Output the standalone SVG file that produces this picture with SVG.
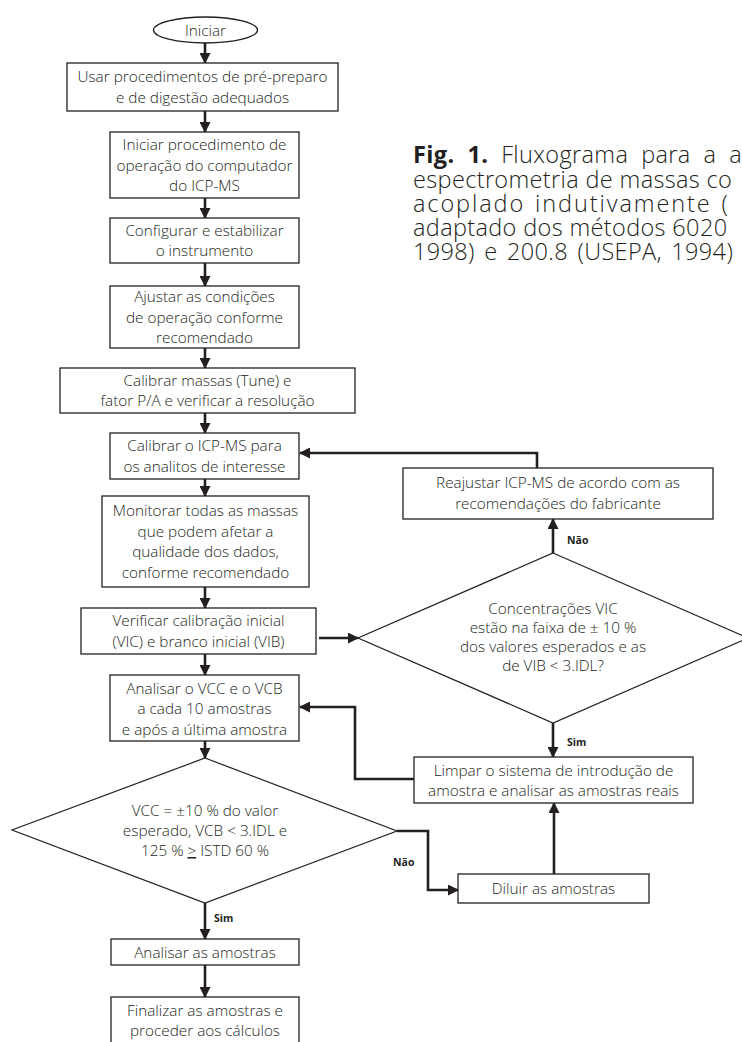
<svg xmlns="http://www.w3.org/2000/svg" width="742" height="1042" viewBox="0 0 742 1042">
  <style>
    .box { fill: #ffffff; stroke: #231f20; stroke-width: 1.3; }
    .dia { fill: #ffffff; stroke: #231f20; stroke-width: 1.2; }
    .t { font-family: "Open Sans", "Noto Sans", sans-serif; font-size: 15.3px; font-weight: 300; fill: #231f20; text-anchor: middle; }
    .lbl { font-family: "Open Sans", "Noto Sans", sans-serif; font-size: 10.5px; font-weight: bold; fill: #231f20; }
    .cap { font-family: "Open Sans", "Noto Sans", sans-serif; font-size: 23.5px; font-weight: 300; fill: #231f20; letter-spacing: 0.35px; }
    .edge { fill: none; stroke: #231f20; stroke-width: 2.6; }
  </style>
  <defs>
    <marker id="arrow" markerUnits="userSpaceOnUse" markerWidth="11" markerHeight="11" refX="10" refY="5.5" orient="auto">
      <path d="M0,0 L11,5.5 L0,11 z" fill="#231f20"/>
    </marker>
  </defs>
  <rect width="742" height="1042" fill="#ffffff"/>

  <!-- connectors -->
  <g id="connectors">
    <path class="edge" d="M205,43 V63" marker-end="url(#arrow)"/>
    <path class="edge" d="M205,111 V132" marker-end="url(#arrow)"/>
    <path class="edge" d="M205,198 V218" marker-end="url(#arrow)"/>
    <path class="edge" d="M205,263 V286" marker-end="url(#arrow)"/>
    <path class="edge" d="M205,348 V368" marker-end="url(#arrow)"/>
    <path class="edge" d="M205,413 V433" marker-end="url(#arrow)"/>
    <path class="edge" d="M205,479 V496" marker-end="url(#arrow)"/>
    <path class="edge" d="M205,587 V608" marker-end="url(#arrow)"/>
    <path class="edge" d="M205,654 V675" marker-end="url(#arrow)"/>
    <path class="edge" d="M205,741 V758" marker-end="url(#arrow)"/>
    <path class="edge" d="M205,903 V939" marker-end="url(#arrow)"/>
    <path class="edge" d="M205,965 V997" marker-end="url(#arrow)"/>
    <path class="edge" d="M319,638 H358" marker-end="url(#arrow)"/>
    <path class="edge" d="M553,553 V519" marker-end="url(#arrow)"/>
    <path class="edge" d="M537,468 V453 H300" marker-end="url(#arrow)"/>
    <path class="edge" d="M553,723 V757" marker-end="url(#arrow)"/>
    <path class="edge" d="M414,779 H355 V707 H300" marker-end="url(#arrow)"/>
    <path class="edge" d="M397,831 H428 V890 H458" marker-end="url(#arrow)"/>
    <path class="edge" d="M554,874 V803" marker-end="url(#arrow)"/>
    <text class="lbl" x="567" y="544">Não</text>
    <text class="lbl" x="567" y="746">Sim</text>
    <text class="lbl" x="393" y="866">Não</text>
    <text class="lbl" x="214" y="922">Sim</text>
  </g>

  <!-- caption -->
  <g id="caption">
    <text class="cap" x="413" y="163" style="word-spacing:6.5px"><tspan font-weight="bold">Fig. 1.</tspan> Fluxograma para a a</text>
    <text class="cap" x="413" y="188">espectrometria de massas co</text>
    <text class="cap" x="413" y="212" style="letter-spacing:1.9px; word-spacing:2px">acoplado indutivamente (</text>
    <text class="cap" x="413" y="236">adaptado dos métodos 6020</text>
    <text class="cap" x="413" y="260" style="word-spacing:3px">1998) e 200.8 (USEPA, 1994)</text>
  </g>

  <g id="n-iniciar">
    <ellipse class="box" cx="205.5" cy="30" rx="52" ry="13"/>
    <text class="t" x="205.5" y="35.5">Iniciar</text>
  </g>
  <g id="n-preparo">
    <rect class="box" x="67" y="63" width="271" height="48"/>
    <text class="t" x="202.5" y="82">Usar procedimentos de pré-preparo</text>
    <text class="t" x="202.5" y="103">e de digestão adequados</text>
  </g>
  <g id="n-computador">
    <rect class="box" x="110" y="132" width="189" height="66"/>
    <text class="t" x="204.5" y="150">Iniciar procedimento de</text>
    <text class="t" x="204.5" y="171">operação do computador</text>
    <text class="t" x="204.5" y="191">do ICP-MS</text>
  </g>
  <g id="n-configurar">
    <rect class="box" x="110" y="218" width="189" height="45"/>
    <text class="t" x="204.5" y="236">Configurar e estabilizar</text>
    <text class="t" x="204.5" y="256">o instrumento</text>
  </g>
  <g id="n-ajustar">
    <rect class="box" x="110" y="286" width="189" height="62"/>
    <text class="t" x="204.5" y="302">Ajustar as condições</text>
    <text class="t" x="204.5" y="323">de  operação conforme</text>
    <text class="t" x="204.5" y="343">recomendado</text>
  </g>
  <g id="n-tune">
    <rect class="box" x="60" y="368" width="295" height="45"/>
    <text class="t" x="207.5" y="386">Calibrar massas (Tune) e</text>
    <text class="t" x="207.5" y="406">fator P/A e verificar a resolução</text>
  </g>
  <g id="n-calibrar">
    <rect class="box" x="110" y="433" width="189" height="46"/>
    <text class="t" x="204.5" y="451">Calibrar o ICP-MS para</text>
    <text class="t" x="204.5" y="472">os analitos de interesse</text>
  </g>
  <g id="n-monitorar">
    <rect class="box" x="102" y="496" width="207" height="91"/>
    <text class="t" x="205.5" y="516">Monitorar todas as massas</text>
    <text class="t" x="205.5" y="537">que podem afetar a</text>
    <text class="t" x="205.5" y="557">qualidade dos dados,</text>
    <text class="t" x="205.5" y="578">conforme recomendado</text>
  </g>
  <g id="n-verificar">
    <rect class="box" x="81" y="608" width="235" height="46"/>
    <text class="t" x="198.5" y="626">Verificar calibração inicial</text>
    <text class="t" x="198.5" y="647">(VIC) e branco inicial (VIB)</text>
  </g>
  <g id="n-vcc">
    <rect class="box" x="110" y="675" width="189" height="66"/>
    <text class="t" x="204.5" y="693.5">Analisar o VCC e o VCB</text>
    <text class="t" x="204.5" y="714">a cada 10 amostras</text>
    <text class="t" x="204.5" y="734.5">e após a última amostra</text>
  </g>
  <g id="n-decisao-vcc">
    <polygon class="dia" points="205,758 397,831 205,903 12,830"/>
    <text class="t" x="205" y="816">VCC = ±10 % do valor</text>
    <text class="t" x="205" y="836">esperado, VCB &lt; 3.IDL e</text>
    <text class="t" x="205" y="856">125 % <tspan text-decoration="underline">&gt;</tspan> ISTD 60 %</text>
  </g>
  <g id="n-analisar">
    <rect class="box" x="111" y="939" width="188" height="26"/>
    <text class="t" x="205" y="957.5">Analisar as amostras</text>
  </g>
  <g id="n-finalizar">
    <rect class="box" x="111" y="997" width="188" height="55"/>
    <text class="t" x="205" y="1016">Finalizar as amostras e</text>
    <text class="t" x="205" y="1036">proceder aos cálculos</text>
  </g>
  <g id="n-reajustar">
    <rect class="box" x="403" y="468" width="310" height="51"/>
    <text class="t" x="558" y="488">Reajustar ICP-MS de acordo com as</text>
    <text class="t" x="558" y="509">recomendações do fabricante</text>
  </g>
  <g id="n-decisao-vic">
    <polygon class="dia" points="553,553 748,638 553,723 358,638"/>
    <text class="t" x="553" y="614">Concentrações VIC</text>
    <text class="t" x="553" y="633">estão na faixa de ± 10 %</text>
    <text class="t" x="553" y="652">dos valores esperados e as</text>
    <text class="t" x="553" y="671">de VIB &lt; 3.IDL?</text>
  </g>
  <g id="n-limpar">
    <rect class="box" x="414" y="757" width="279" height="46"/>
    <text class="t" x="553.5" y="775.5">Limpar o sistema de introdução de</text>
    <text class="t" x="553.5" y="796">amostra e analisar as amostras reais</text>
  </g>
  <g id="n-diluir">
    <rect class="box" x="458" y="874" width="191" height="29"/>
    <text class="t" x="553.5" y="894">Diluir as amostras</text>
  </g>
</svg>
